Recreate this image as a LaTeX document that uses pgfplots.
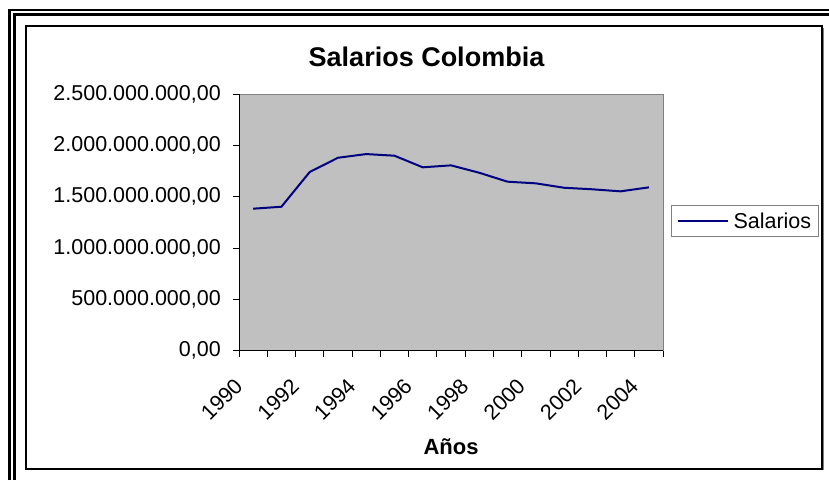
\documentclass[border=0pt]{standalone}
\usepackage{fontspec}
\setmainfont{Liberation Sans}
\usepackage{pgfplots}
\pgfplotsset{compat=1.18}
\definecolor{plotgray}{RGB}{192,192,192}
\definecolor{navyline}{RGB}{0,0,128}
\definecolor{bordergray}{RGB}{128,128,128}

\begin{document}
\begin{tikzpicture}
\useasboundingbox (0pt,0pt) rectangle (829pt,480pt);
\fill[white] (0pt,0pt) rectangle (829pt,480pt);
% double outer frame along top and left
\draw[line width=2.5pt] (9.5pt,0pt) -- (9.5pt,470pt) -- (829pt,470pt);
\draw[line width=3pt] (14.8pt,0pt) -- (14.8pt,465.5pt) -- (829pt,465.5pt);
% chart area frame
\draw[bordergray, line width=1pt] (28pt,10.3pt) -- (823pt,10.3pt) -- (823pt,452pt);
\draw[line width=2pt] (26.3pt,453.7pt) rectangle (822pt,11.3pt);

% chart title
\node[font=\bfseries\fontsize{27}{31}\selectfont, anchor=base] at (426.5pt,413pt) {Salarios Colombia};

\begin{axis}[
  at={(239pt,129.3pt)}, anchor=south west,
  scale only axis, width=424pt, height=256.7pt,
  xmin=-0.5, xmax=14.5, ymin=0, ymax=2.5e9,
  clip=false,
  axis background/.style={fill=plotgray},
  axis line style={bordergray, line width=1pt},
  xtick={-0.5,0.5,...,14.5}, xticklabels={},
  extra x ticks={0,2,...,14},
  extra x tick labels={1990,1992,1994,1996,1998,2000,2002,2004},
  extra x tick style={major tick length=0pt},
  ytick={0,5e8,1e9,1.5e9,2e9,2.5e9},
  yticklabels={{0,00},{500.000.000,00},{1.000.000.000,00},{1.500.000.000,00},{2.000.000.000,00},{2.500.000.000,00}},
  scaled y ticks=false,
  xtick pos=left, ytick pos=left,
  tick align=outside, major tick length=6pt,
  tick style={black, line width=0.8pt},
  ticklabel style={font=\fontsize{21.5}{25}\selectfont},
  yticklabel style={inner sep=0pt, xshift=-12pt},
  xticklabel style={xshift=-20pt, yshift=-26pt, rotate=45, anchor=north east, inner sep=0pt},
  xlabel={Años},
  xlabel style={font=\bfseries\fontsize{22}{26}\selectfont, at={(rel axis cs:0.5,0)}, anchor=base, yshift=-104pt},
  legend style={at={(rel axis cs:1.0189,0.504)}, anchor=west, draw=bordergray, line width=1pt,
    fill=white, font=\fontsize{21.5}{25}\selectfont, inner xsep=5pt, inner ysep=5pt, column sep=3pt},
  legend image code/.code={\draw[#1] (0pt,0pt) -- (50pt,0pt);},
]
\addplot[navyline, line width=2pt, mark=none] coordinates {
  (0,1.383e9) (1,1.402e9) (2,1.740e9) (3,1.879e9) (4,1.915e9)
  (5,1.899e9) (6,1.786e9) (7,1.805e9) (8,1.733e9) (9,1.646e9)
  (10,1.630e9) (11,1.587e9) (12,1.572e9) (13,1.552e9) (14,1.591e9)
};
\addlegendentry{Salarios}
\draw[black, line width=1pt] (rel axis cs:0,1) -- (rel axis cs:0,0) -- (rel axis cs:1,0);
\end{axis}
\end{tikzpicture}
\end{document}
